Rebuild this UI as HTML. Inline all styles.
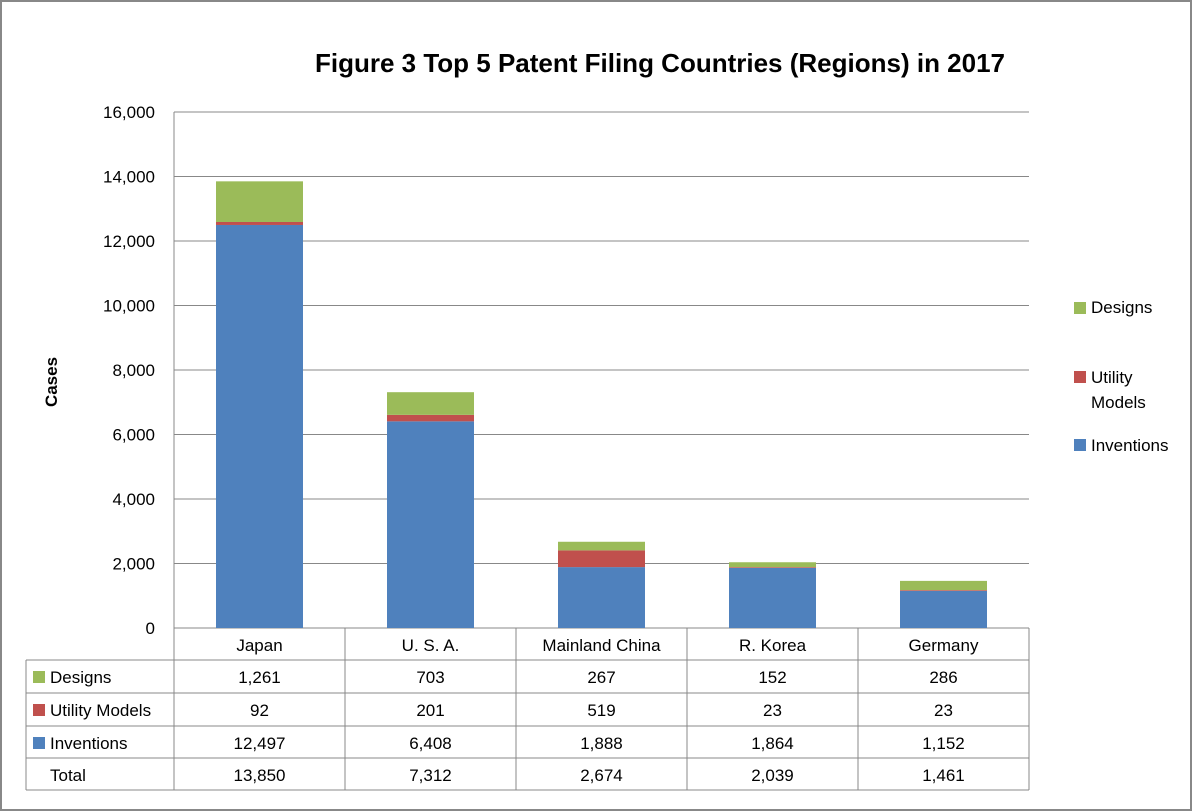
<!DOCTYPE html>
<html><head><meta charset="utf-8"><style>
html,body{margin:0;padding:0;background:#fff}
svg{display:block;font-family:"Liberation Sans",sans-serif}
</style></head><body>
<svg id="chart" width="1193" height="812">
<rect x="1" y="1" width="1190" height="809" fill="#fff" stroke="#888" stroke-width="2"/>
<text x="660" y="72" text-anchor="middle" font-size="26" font-weight="bold">Figure 3 Top 5 Patent Filing Countries (Regions) in 2017</text>
<text transform="translate(57,382) rotate(-90)" text-anchor="middle" font-size="17" font-weight="bold">Cases</text>
<g id="grid"></g><g id="bars"></g><g id="table"></g><g id="legend"></g>
</svg>
<script>
const categories=["Japan","U. S. A.","Mainland China","R. Korea","Germany"];
const inventions=[12497,6408,1888,1864,1152];
const utility=[92,201,519,23,23];
const designs=[1261,703,267,152,286];
const yTicks=[0,2000,4000,6000,8000,10000,12000,14000,16000];
const NS="http://www.w3.org/2000/svg";
const X0=174,X1=1029,Y0=628,Y1=112,YMAX=16000;
const cw=(X1-X0)/categories.length;
const y=v=>Y0-(v/YMAX)*(Y0-Y1);
const xc=i=>X0+cw*(i+0.5);
const fmt=v=>v.toLocaleString("en-US");
function mk(p,tag,a,t){const e=document.createElementNS(NS,tag);for(const k in a)e.setAttribute(k,a[k]);if(t!==undefined)e.textContent=t;p.appendChild(e);return e;}
const grid=document.getElementById("grid");
yTicks.forEach(v=>{
 const l=mk(grid,"line",{x1:X0,x2:X1,y1:y(v),y2:y(v),stroke:"#888","stroke-width":1});
 
 
 const t=mk(grid,"text",{x:155,y:y(v)+6,"text-anchor":"end","font-size":17},fmt(v));
 
 
});
const ax=mk(grid,"line",{x1:X0,x2:X0,y1:Y1,y2:Y0,stroke:"#888"});


const bars=document.getElementById("bars");
const bw=87;
const series=[[inventions,"#4f81bd","inventions"],[utility,"#c0504d","utility-models"],[designs,"#9bbb59","designs"]];
categories.forEach((c,i)=>{
 let base=0;
 series.forEach(([arr,col,nm])=>{
  const r=mk(bars,"rect",{x:xc(i)-bw/2,y:y(base+arr[i]),width:bw,height:y(base)-y(base+arr[i]),fill:col});
  
  
  base+=arr[i];
 });
});
const tb=document.getElementById("table");
const rows=[660,693,726,758,790];
const st={stroke:"#888","stroke-width":1};
mk(tb,"line",Object.assign({x1:26,x2:X1,y1:660,y2:660},st));
rows.slice(1).forEach(r=>mk(tb,"line",Object.assign({x1:26,x2:X1,y1:r,y2:r},st)));
mk(tb,"line",Object.assign({x1:26,x2:26,y1:660,y2:790},st));
for(let i=0;i<=categories.length;i++)mk(tb,"line",Object.assign({x1:X0+cw*i,x2:X0+cw*i,y1:628,y2:790},st));
categories.forEach((c,i)=>{
 const t=mk(tb,"text",{x:xc(i),y:651,"text-anchor":"middle","font-size":17},c);
 
 
});
const trows=[["Designs","#9bbb59",designs],["Utility Models","#c0504d",utility],["Inventions","#4f81bd",inventions],["Total",null,categories.map((c,i)=>inventions[i]+utility[i]+designs[i])]];
trows.forEach(([nm,col,arr],r)=>{
 const yb=rows[r]+23;
 if(col){const s=mk(tb,"rect",{x:33,y:yb-12,width:12,height:12,fill:col});
  
  }
 const lt=mk(tb,"text",{x:50,y:yb,"font-size":17},nm);
 
 
 arr.forEach((v,i)=>{
  const t=mk(tb,"text",{x:xc(i),y:yb,"text-anchor":"middle","font-size":17},fmt(v));
  
  
 });
});
const lg=document.getElementById("legend");
[["Designs","#9bbb59",302,[313]],["Utility Models","#c0504d",371,[383,408]],["Inventions","#4f81bd",439,[451]]].forEach(([nm,col,sy,ys])=>{
 const s=mk(lg,"rect",{x:1074,y:sy,width:12,height:12,fill:col});
 
 
 const parts=nm==="Utility Models"?["Utility"," Models"]:[nm];
 parts.forEach((p,k)=>{
  const t=mk(lg,"text",{x:1091,y:ys[k],"font-size":17,"xml:space":"preserve"},p);
  
  
 });
});
</script>
</body></html>
